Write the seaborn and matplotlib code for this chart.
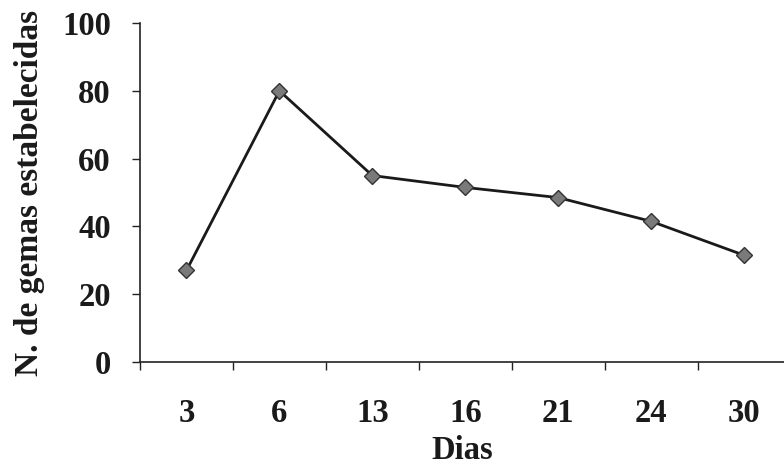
import pandas as pd
import seaborn as sns
import matplotlib.pyplot as plt
from matplotlib.ticker import FixedLocator

# Data
dias = ["3", "6", "13", "16", "21", "24", "30"]
gemas = [27, 80, 55, 51.5, 48.5, 41.5, 31.5]

df = pd.DataFrame({"Dias": dias, "Gemas": gemas})

sns.set_style("white")
plt.rcParams["font.family"] = ["Liberation Serif", "DejaVu Serif"]
plt.rcParams["font.weight"] = "bold"

fig = plt.figure(figsize=(7.84, 4.71), dpi=100)
ax = fig.add_axes([140 / 784, 1 - 362 / 471, (784 - 140) / 784, (362 - 23) / 471])

sns.pointplot(data=df, x="Dias", y="Gemas", color="#1a1a1a", markers="D",
              linestyles="-", errorbar=None, ax=ax)
line = ax.lines[0]
line.set_linewidth(2.0)
line.set_markersize(8)
line.set_markerfacecolor("#7a7a7a")
line.set_markeredgecolor("#333333")
line.set_markeredgewidth(1.0)

ax.set_xlim(-0.5, 6.43)
ax.set_ylim(0, 100)
ax.set_yticks([0, 20, 40, 60, 80, 100])

# ticks sit between categories, labels at category centres
ax.xaxis.set_minor_locator(FixedLocator([i - 0.5 for i in range(len(dias) + 1)]))
ax.tick_params(axis="x", which="major", length=0, pad=26, labelsize=23.5)
ax.tick_params(axis="x", which="minor", direction="out", length=6, width=1, color="#222222", bottom=True)
ax.tick_params(axis="y", direction="out", length=6, width=1, color="#222222", pad=15, labelsize=23.5, left=True)

for s in ["top", "right"]:
    ax.spines[s].set_visible(False)
for s in ["left", "bottom"]:
    ax.spines[s].set_color("#222222")
    ax.spines[s].set_linewidth(1.2)

ax.set_xlabel("Dias", fontsize=23.5, fontweight="bold", labelpad=4, color="#1a1a1a")
ax.set_ylabel("N. de gemas estabelecidas", fontsize=24, fontweight="bold", labelpad=12, color="#1a1a1a")
for lbl in ax.get_xticklabels() + ax.get_yticklabels():
    lbl.set_fontweight("bold")
    lbl.set_color("#1a1a1a")

plt.savefig("out.png", dpi=100)
